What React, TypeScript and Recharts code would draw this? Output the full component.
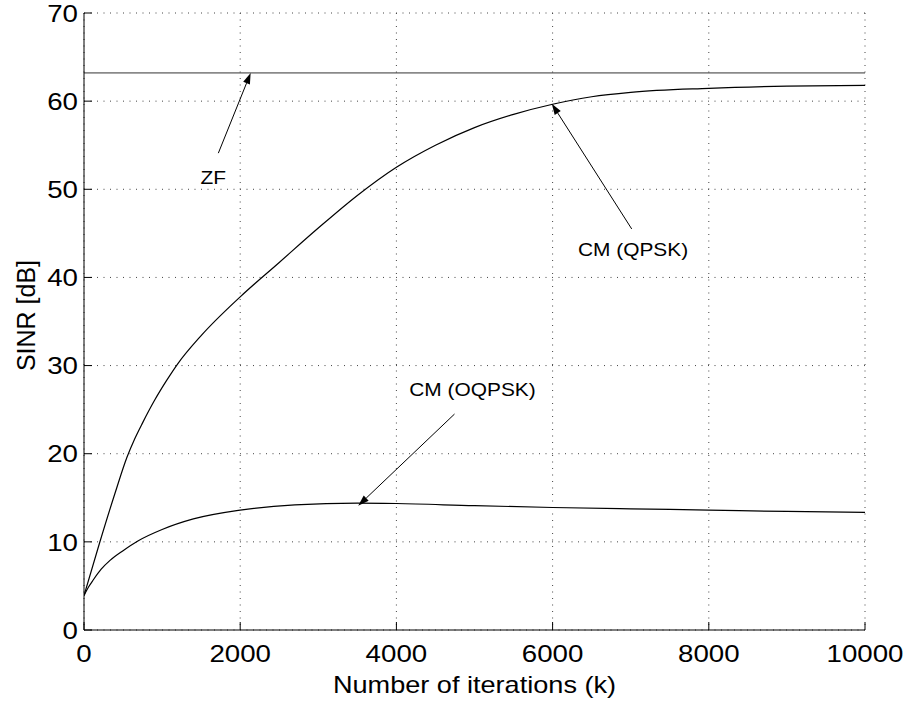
import {
  LineChart,
  Line,
  XAxis,
  YAxis,
  CartesianGrid,
  ReferenceLine,
  ReferenceDot,
} from 'recharts';

const FONT = '"Liberation Sans", Arial, Helvetica, sans-serif';

const ITER_TICKS = [0, 2000, 4000, 6000, 8000, 10000];
const SINR_TICKS = [0, 10, 20, 30, 40, 50, 60, 70];

// CM with QPSK
const qpskIter = [0, 200, 400, 550, 650, 750, 900, 1050, 1200, 1500, 2000, 2500, 3000, 3500, 4000, 4500, 5000, 5500, 6000, 6500, 7000, 8000, 9000, 10000];
const qpskSinr = [3.9, 9.9, 15.6, 19.6, 21.7, 23.5, 26.0, 28.2, 30.2, 33.4, 37.8, 41.7, 45.6, 49.3, 52.5, 55.0, 57.0, 58.5, 59.65, 60.5, 61.0, 61.45, 61.7, 61.8];

// CM with OQPSK
const oqpskIter = [0, 60, 120, 220, 333, 500, 690, 1000, 1400, 2000, 2700, 3500, 4000, 5000, 6000, 7000, 8000, 9000, 10000];
const oqpskSinr = [3.9, 4.9, 5.7, 6.9, 7.9, 9.0, 10.1, 11.4, 12.6, 13.6, 14.2, 14.4, 14.35, 14.1, 13.9, 13.75, 13.6, 13.45, 13.35];

const ZF_SINR = 63.2;

// annotations: text, label centre, arrow tail, arrow tip (data units)
const noteText = ['ZF', 'CM (QPSK)', 'CM (OQPSK)'];
const noteAt = [[1656, 51.4], [7030, 43.2], [4974, 27.3]];
const arrowTail = [[1720, 54.1], [7013, 45.5], [4744, 24.5]];
const arrowTip = [[2134, 63.2], [5990, 59.7], [3511, 14.1]];

const qpskData = qpskIter.map((k, i) => ({ k, sinr: qpskSinr[i] }));
const oqpskData = oqpskIter.map((k, i) => ({ k, sinr: oqpskSinr[i] }));

const STRETCH = 1.13;

const XTick = ({ x, y, payload }: any) => (
  <text
    transform={`translate(${x},${y + 40}) scale(${STRETCH},1)`}
    textAnchor="middle"
    fontSize={24.5}
    fontFamily={FONT}
    fill="#000"
  >
    {payload.value}
  </text>
);

const YTick = ({ x, y, payload }: any) => (
  <text
    transform={`translate(${x - 14},${y + 8.7}) scale(${STRETCH},1)`}
    textAnchor="end"
    fontSize={24.5}
    fontFamily={FONT}
    fill="#000"
  >
    {payload.value}
  </text>
);

const NoTick = () => <g />;

const XTitle = ({ viewBox }: any) => (
  <text
    transform={`translate(${viewBox.x + viewBox.width / 2},${viewBox.y + 63}) scale(${STRETCH},1)`}
    textAnchor="middle"
    fontSize={24}
    fontFamily={FONT}
    fill="#000"
  >
    Number of iterations (k)
  </text>
);

const YTitle = ({ viewBox }: any) => (
  <text
    transform={`translate(35,${viewBox.y + viewBox.height / 2 - 6}) rotate(-90)`}
    textAnchor="middle"
    fontSize={25}
    fontFamily={FONT}
    fill="#000"
  >
    SINR [dB]
  </text>
);

const Arrow = (p: any) => {
  const { x1, y1, x2, y2 } = p;
  const a = Math.atan2(y2 - y1, x2 - x1);
  const L = 11;
  const W = 3.6;
  const bx = x2 - L * Math.cos(a);
  const by = y2 - L * Math.sin(a);
  const nx = -Math.sin(a);
  const ny = Math.cos(a);
  return (
    <g>
      <line x1={x1} y1={y1} x2={bx} y2={by} stroke="#000" strokeWidth={1} />
      <polygon
        points={`${x2},${y2} ${bx + W * nx},${by + W * ny} ${bx - W * nx},${by - W * ny}`}
        fill="#000"
      />
    </g>
  );
};

const noteLabel = (text: string) => (p: any) => (
  <text
    transform={`translate(${p.cx},${p.cy + 6.8}) scale(1.1,1)`}
    textAnchor="middle"
    fontSize={19}
    fontFamily={FONT}
    fill="#000"
  >
    {text}
  </text>
);

export default function App() {
  return (
    <div style={{ position: 'absolute', left: 0, top: 0, width: 922, height: 702, background: '#fff' }}>
      <LineChart
        width={922}
        height={702}
        margin={{ top: 13, right: 57, left: 0, bottom: 0 }}
        style={{ fontFamily: FONT }}
      >
        <CartesianGrid stroke="#444" strokeDasharray="1 5.5" strokeWidth={1} />
        <XAxis
          dataKey="k"
          type="number"
          domain={[0, 10000]}
          ticks={ITER_TICKS}
          allowDataOverflow
          height={72}
          tickSize={-8}
          tickMargin={0}
          tick={XTick}
          axisLine={{ stroke: '#000' }}
          tickLine={{ stroke: '#000' }}
          label={{ content: XTitle }}
        />
        <XAxis
          xAxisId="top"
          orientation="top"
          type="number"
          domain={[0, 10000]}
          ticks={ITER_TICKS}
          height={0}
          tickSize={-8}
          tick={NoTick}
          axisLine={{ stroke: '#000' }}
          tickLine={{ stroke: '#000' }}
        />
        <YAxis
          type="number"
          domain={[0, 70]}
          ticks={SINR_TICKS}
          allowDataOverflow
          width={84}
          tickSize={-8}
          tickMargin={0}
          tick={YTick}
          axisLine={{ stroke: '#000' }}
          tickLine={{ stroke: '#000' }}
          label={{ content: YTitle }}
        />
        <YAxis
          yAxisId="right"
          orientation="right"
          type="number"
          domain={[0, 70]}
          ticks={SINR_TICKS}
          width={0}
          tickSize={-8}
          tick={NoTick}
          axisLine={{ stroke: '#000' }}
          tickLine={{ stroke: '#000' }}
        />
        <ReferenceLine y={ZF_SINR} stroke="#333" strokeWidth={1} />
        <Line
          data={qpskData}
          dataKey="sinr"
          type="monotone"
          stroke="#000"
          strokeWidth={1.2}
          dot={false}
          isAnimationActive={false}
        />
        <Line
          data={oqpskData}
          dataKey="sinr"
          type="monotone"
          stroke="#000"
          strokeWidth={1.2}
          dot={false}
          isAnimationActive={false}
        />
        {noteText.map((t, i) => (
          <ReferenceLine
            key={'a' + i}
            segment={[
              { x: arrowTail[i][0], y: arrowTail[i][1] },
              { x: arrowTip[i][0], y: arrowTip[i][1] },
            ]}
            shape={Arrow}
          />
        ))}
        {noteText.map((t, i) => (
          <ReferenceDot
            key={'t' + i}
            x={noteAt[i][0]}
            y={noteAt[i][1]}
            r={0}
            shape={noteLabel(t)}
          />
        ))}
      </LineChart>
    </div>
  );
}
